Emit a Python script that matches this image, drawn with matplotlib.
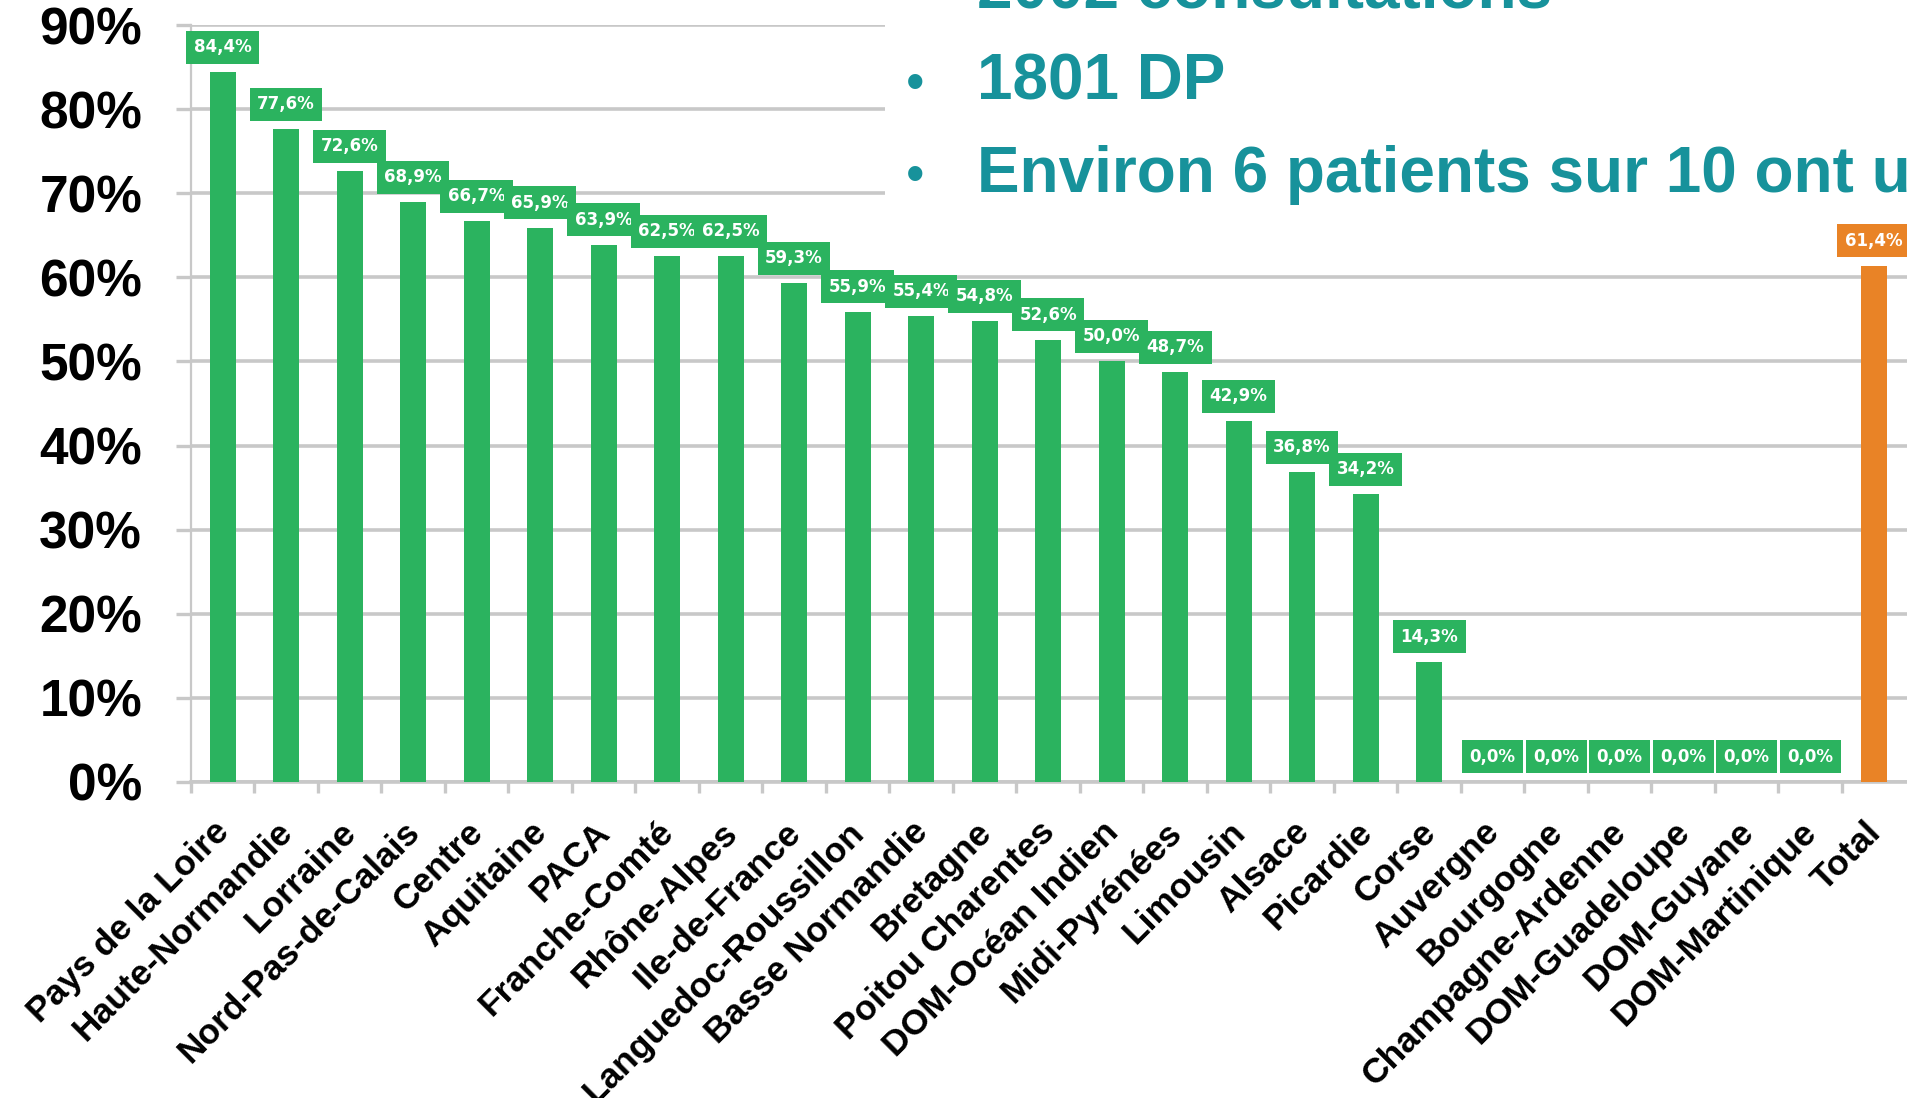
import numpy as np
import matplotlib
matplotlib.use("Agg")
import matplotlib.pyplot as plt
from matplotlib.patches import Rectangle
from matplotlib.transforms import ScaledTranslation

# Données
regions = ["Pays de la Loire", "Haute-Normandie", "Lorraine", "Nord-Pas-de-Calais",
           "Centre", "Aquitaine", "PACA", "Franche-Comté", "Rhône-Alpes",
           "Ile-de-France", "Languedoc-Roussillon", "Basse Normandie", "Bretagne",
           "Poitou Charentes", "DOM-Océan Indien", "Midi-Pyrénées", "Limousin",
           "Alsace", "Picardie", "Corse", "Auvergne", "Bourgogne",
           "Champagne-Ardenne", "DOM-Guadeloupe", "DOM-Guyane", "DOM-Martinique",
           "Total"]
values = [84.4, 77.6, 72.6, 68.9, 66.7, 65.9, 63.9, 62.5, 62.5, 59.3, 55.9, 55.4,
          54.8, 52.6, 50.0, 48.7, 42.9, 36.8, 34.2, 14.3, 0.0, 0.0, 0.0, 0.0, 0.0,
          0.0, 61.4]
y_ticks = [0, 10, 20, 30, 40, 50, 60, 70, 80, 90]
texte = ["2002 consultations", "1801 DP", "Environ 6 patients sur 10 ont utilisé"]

GREEN = "#2bb35f"
ORANGE = "#e98326"
GRID = "#c8c8c8"
TEAL = "#17929b"

plt.rcParams['font.family'] = ['Liberation Sans', 'DejaVu Sans']

fig = plt.figure(figsize=(19.08, 10.98), dpi=100)
ax = fig.add_axes([0.1, 0.2878, 0.9, 0.6894])

x = np.arange(len(regions))
colors = [GREEN] * (len(regions) - 1) + [ORANGE]
ax.bar(x, values, width=0.41, color=colors, zorder=3)

# étiquettes de valeurs
for xi, v, c in zip(x, values, colors):
    lab = f"{v:.1f}".replace('.', ',') + '%'
    ax.annotate(lab, (xi, v), xytext=(0, 18), textcoords='offset points',
                ha='center', va='center', fontsize=12, fontweight='bold',
                family='DejaVu Sans', color='white', zorder=5, clip_on=False,
                bbox=dict(boxstyle='square,pad=0.45', fc=c, ec='none'))

ax.set_xlim(-0.5, 26.54)
ax.set_ylim(0, 90)
ax.set_yticks(y_ticks)
ax.set_yticklabels([f"{t}%" for t in y_ticks], fontsize=37, fontweight='bold')
ax.yaxis.grid(True, color=GRID, linewidth=2.6, zorder=0)
ax.tick_params(axis='y', length=11, width=2.4, color=GRID, pad=24)

ax.set_xticks(np.arange(-0.5, 26, 1))
ax.set_xticklabels([])
ax.tick_params(axis='x', which='major', length=8, width=2.4, color=GRID)
ax.set_xticks(x, minor=True)
ax.set_xticklabels(regions, minor=True, rotation=45, ha='right',
                   rotation_mode='anchor', fontsize=25.5, fontweight='bold')
ax.tick_params(axis='x', which='minor', length=0, pad=24)
decal = ScaledTranslation(-0.1, 0, fig.dpi_scale_trans)
for lbl in ax.get_xticklabels(minor=True):
    lbl.set_transform(lbl.get_transform() + decal)

for s in ['top', 'right']:
    ax.spines[s].set_visible(False)
ax.spines['left'].set_color(GRID)
ax.spines['left'].set_linewidth(1.6)
ax.spines['bottom'].set_color(GRID)
ax.spines['bottom'].set_linewidth(2.6)

# encadré de texte de la diapositive
fig.patches.append(Rectangle((885 / 1908, 1 - 212 / 1098), 1.0, 212 / 1098,
                             transform=fig.transFigure, fc='white', ec='none',
                             zorder=2))
fig.text(977 / 1908, 1 - 8 / 1098, texte[0], fontsize=46, fontweight='bold',
         color=TEAL, va='baseline', zorder=3)
for i, t in enumerate(texte[1:]):
    yb = 1 - (100 + 92 * i) / 1098
    fig.text(915 / 1908, yb, "•", fontsize=38, color=TEAL, ha='center',
             va='baseline', zorder=3)
    fig.text(977 / 1908, yb, t, fontsize=46, fontweight='bold', color=TEAL,
             va='baseline', zorder=3)

fig.savefig("out.png", dpi=100)
